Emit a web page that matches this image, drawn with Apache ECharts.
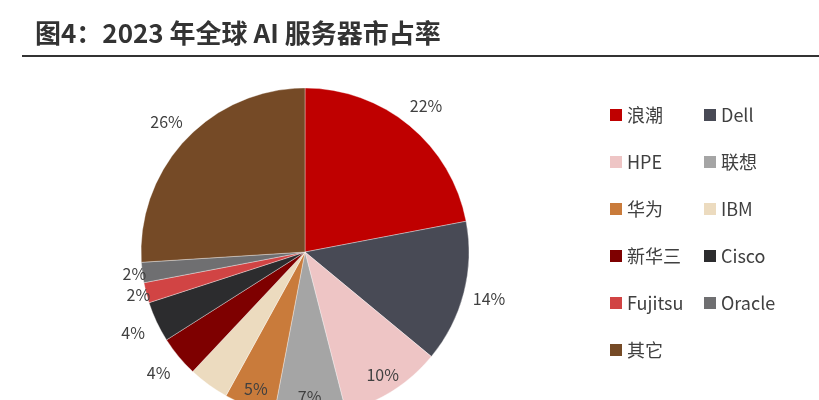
<!DOCTYPE html>
<html>
<head>
<meta charset="utf-8">
<script src="https://cdn.jsdelivr.net/npm/echarts@6/dist/echarts.min.js"></script>
<style>
  html, body { margin: 0; padding: 0; background: #fff; }
  #chart { width: 819px; height: 400px; }
</style>
</head>
<body>
<div id="chart"></div>
<script>
// 2023 global AI server market share (%)
var vendors = ['浪潮', 'Dell', 'HPE', '联想', '华为', 'IBM', '新华三', 'Cisco', 'Fujitsu', 'Oracle', '其它'];
var shares = [22, 14, 10, 7, 5, 4, 4, 4, 2, 2, 26];
var colors = ['#BF0000', '#484A55', '#EEC5C5', '#A5A5A5', '#C97B3B', '#ECDBBF',
              '#7E0000', '#2C2C2E', '#D14444', '#6F6F71', '#754A26'];
var legendLeft = ['浪潮', 'HPE', '华为', '新华三', 'Fujitsu', '其它'];
var legendRight = ['Dell', '联想', 'IBM', 'Cisco', 'Oracle'];
// where each percentage label sits: outer ring, near ring, or inside the pie
var labelRing = ['outer', 'outer', 'inner', 'inner', 'inner', 'outer', 'outer', 'outer', 'near', 'near', 'outer'];

var FONT = '"Noto Sans CJK SC", "Noto Sans", sans-serif';
var CENTER = [305, 252];

var pieData = vendors.map(function (name, i) {
    return { name: name, value: shares[i], itemStyle: { color: colors[i] } };
});

function labelSeries(ring, radius) {
    return {
        type: 'pie',
        silent: true,
        center: CENTER,
        radius: radius,
        startAngle: 90,
        avoidLabelOverlap: false,
        minShowLabelAngle: 0,
        emphasis: { disabled: true },
        itemStyle: { color: 'rgba(0,0,0,0)', borderWidth: 0 },
        label: {
            show: true,
            position: 'inside',
            formatter: '{c}%',
            color: '#404040',
            fontSize: 16,
            fontFamily: FONT
        },
        labelLine: { show: false },
        data: vendors.map(function (name, i) {
            return {
                name: name,
                value: shares[i],
                label: { show: labelRing[i] === ring }
            };
        }),
        z: 3
    };
}

function legend(names, left) {
    return {
        data: names,
        orient: 'vertical',
        left: left,
        top: 105,
        padding: 0,
        icon: 'rect',
        itemWidth: 12,
        itemHeight: 12,
        itemGap: 27,
        itemStyle: { borderWidth: 0 },
        textStyle: { fontSize: 18, lineHeight: 20, color: '#404040', fontFamily: FONT },
        selectedMode: false
    };
}

var chart = echarts.init(document.getElementById('chart'));
chart.setOption({
    backgroundColor: '#fff',
    animation: false,
    title: {
        text: '图4：2023 年全球 AI 服务器市占率',
        left: 35,
        top: 20,
        padding: 0,
        textStyle: { fontSize: 26, fontWeight: 'bold', color: '#333', fontFamily: FONT }
    },
    graphic: [{
        type: 'line',
        shape: { x1: 22, y1: 56, x2: 819, y2: 56 },
        style: { stroke: '#333', lineWidth: 2 }
    }],
    legend: [legend(legendLeft, 610), legend(legendRight, 704)],
    series: [
        {
            type: 'pie',
            center: CENTER,
            radius: 164,
            startAngle: 90,
            silent: true,
            label: { show: false },
            labelLine: { show: false },
            emphasis: { disabled: true },
            itemStyle: { borderColor: 'rgba(255,255,255,0.35)', borderWidth: 1 },
            data: pieData
        },
        labelSeries('outer', [177, 197]),
        labelSeries('near', [159, 179]),
        labelSeries('inner', [132, 152])
    ]
});
</script>
</body>
</html>
